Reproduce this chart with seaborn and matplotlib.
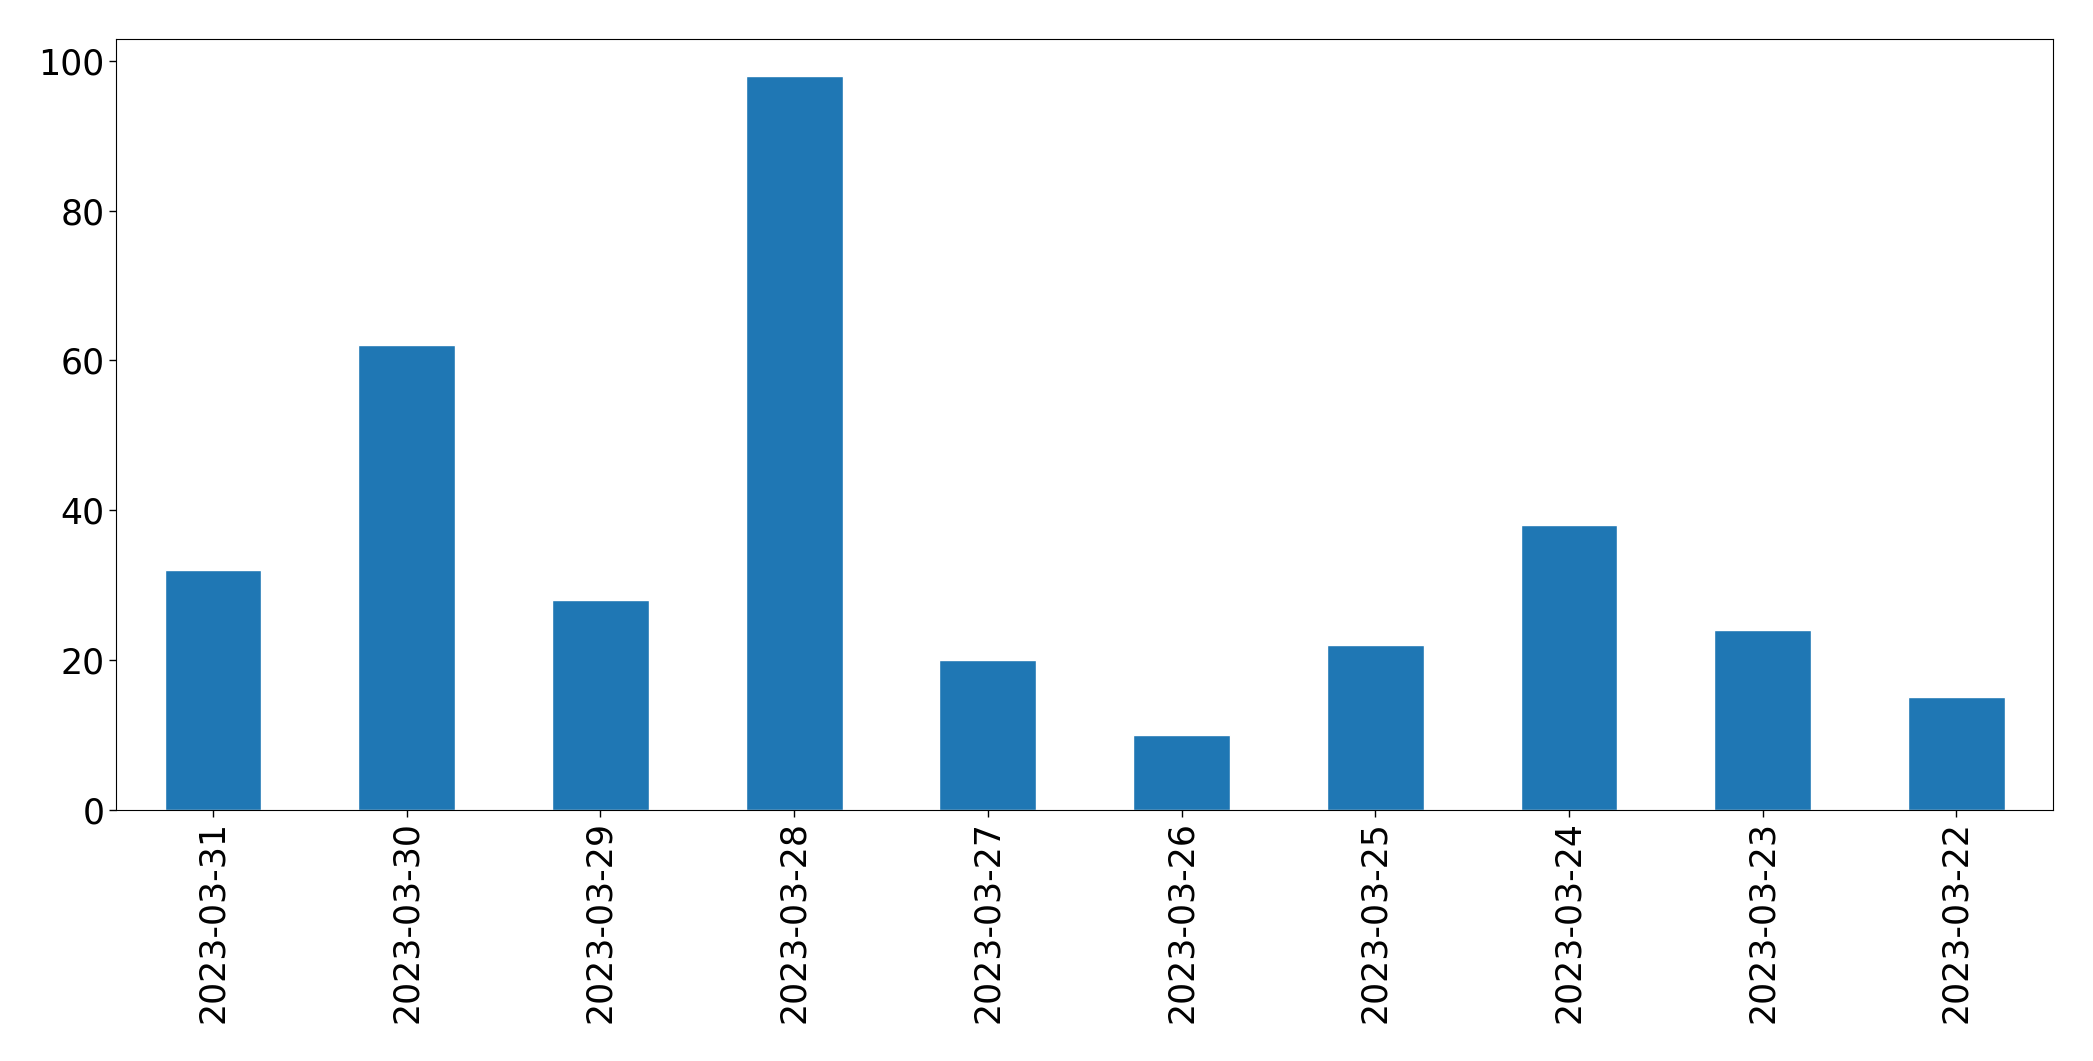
import pandas as pd
import matplotlib
matplotlib.use("Agg")
import matplotlib.pyplot as plt
import seaborn as sns

# Data
dates = ["2023-03-31", "2023-03-30", "2023-03-29", "2023-03-28", "2023-03-27",
         "2023-03-26", "2023-03-25", "2023-03-24", "2023-03-23", "2023-03-22"]
counts = [32, 62, 28, 98, 20, 10, 22, 38, 24, 15]

df = pd.DataFrame({"date": dates, "count": counts})

sns.set_style("white")
plt.rcParams['font.family'] = ['DejaVu Sans']
plt.rcParams['text.color'] = 'black'
plt.rcParams['xtick.color'] = 'black'
plt.rcParams['ytick.color'] = 'black'

fig, ax = plt.subplots(figsize=(20.93, 10.61), dpi=100)
fig.subplots_adjust(left=0.0555, right=0.981, top=0.963, bottom=0.237)

sns.barplot(data=df, x="date", y="count", color="#1f77b4", saturation=1,
            width=0.5, order=dates, ax=ax)

ax.set_xlabel("")
ax.set_ylabel("")
ax.tick_params(axis="both", labelsize=25, length=5, width=1, bottom=True, left=True,
               colors="black")
plt.xticks(rotation=90)
for s in ax.spines.values():
    s.set_color("black")
    s.set_linewidth(0.8)

plt.savefig("out.png", dpi=100)
